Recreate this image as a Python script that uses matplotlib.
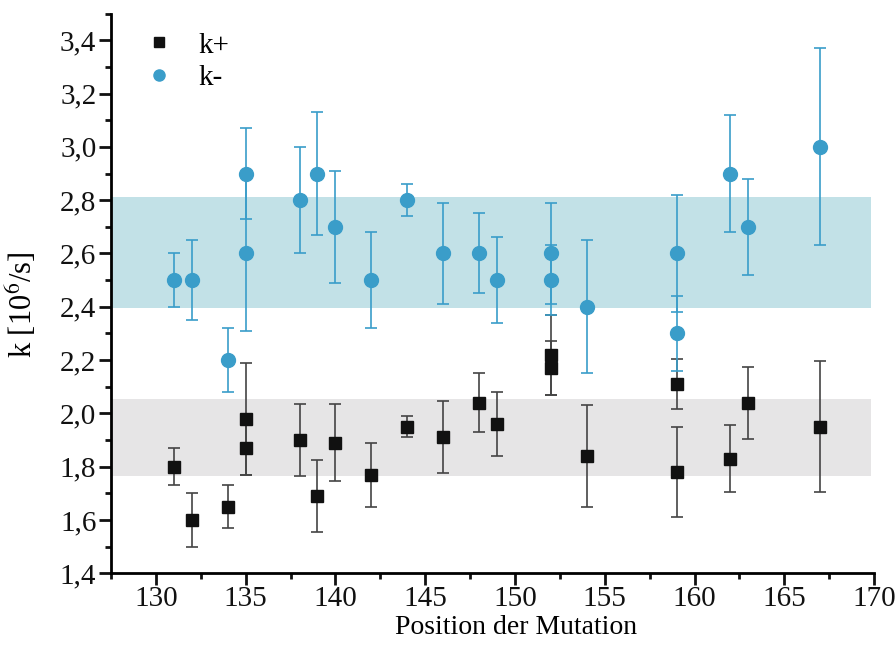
import matplotlib
matplotlib.use("Agg")
import matplotlib.pyplot as plt
from matplotlib.ticker import MultipleLocator, FuncFormatter

# k+ (schwarze Quadrate)
pos_plus = [131, 132, 134, 135, 135, 138, 139, 140, 142, 144, 146, 148, 149, 152, 152, 154, 159, 159, 162, 163, 167]
k_plus = [1.80, 1.60, 1.65, 1.98, 1.87, 1.90, 1.69, 1.89, 1.77, 1.95, 1.91, 2.04, 1.96, 2.17, 2.22, 1.84, 1.78, 2.11, 1.83, 2.04, 1.95]
err_plus = [0.07, 0.10, 0.08, 0.21, 0.10, 0.135, 0.135, 0.145, 0.12, 0.04, 0.135, 0.11, 0.12, 0.10, 0.15, 0.19, 0.17, 0.095, 0.125, 0.135, 0.245]

# k- (blaue Kreise)
pos_minus = [131, 132, 134, 135, 135, 138, 139, 140, 142, 144, 146, 148, 149, 152, 152, 154, 159, 159, 162, 163, 167]
k_minus = [2.50, 2.50, 2.20, 2.90, 2.60, 2.80, 2.90, 2.70, 2.50, 2.80, 2.60, 2.60, 2.50, 2.60, 2.50, 2.40, 2.60, 2.30, 2.90, 2.70, 3.00]
err_minus = [0.10, 0.15, 0.12, 0.17, 0.29, 0.20, 0.23, 0.21, 0.18, 0.06, 0.19, 0.15, 0.16, 0.19, 0.13, 0.25, 0.22, 0.14, 0.22, 0.18, 0.37]

# Bereiche (Mittelwert +- Abweichung)
band_plus = (1.765, 2.055)
band_minus = (2.395, 2.81)
band_x = (127.5, 169.85)

plt.rcParams['font.family'] = ['Liberation Serif', 'DejaVu Serif']
plt.rcParams['mathtext.fontset'] = 'stix'

fig = plt.figure(figsize=(8.96, 6.6), dpi=100)
ax = fig.add_axes([0.1239, 0.1314, 0.8516, 0.848])

ax.fill_between(band_x, band_minus[0], band_minus[1], color='#c2e1e7', lw=0, zorder=0)
ax.fill_between(band_x, band_plus[0], band_plus[1], color='#e6e5e6', lw=0, zorder=0)

ax.errorbar(pos_plus, k_plus, yerr=err_plus, fmt='s', color='#111111', ms=9,
            ecolor='#444444', elinewidth=1.2, capsize=4.2, capthick=1.2, label='k+', zorder=3)
ax.errorbar(pos_minus, k_minus, yerr=err_minus, fmt='o', color='#3a9dc9', ms=10,
            ecolor='#3a9dc9', elinewidth=1.2, capsize=4.2, capthick=1.2, label='k-', zorder=4)

ax.set_xlim(127.5, 170)
ax.set_ylim(1.4, 3.5)
ax.xaxis.set_major_locator(MultipleLocator(5))
ax.xaxis.set_minor_locator(MultipleLocator(2.5))
ax.yaxis.set_major_locator(MultipleLocator(0.2))
ax.yaxis.set_minor_locator(MultipleLocator(0.1))
ax.yaxis.set_major_formatter(FuncFormatter(lambda v, p: f"{v:.1f}".replace('.', ',')))

for s in ['top', 'right']:
    ax.spines[s].set_visible(False)
for s in ['left', 'bottom']:
    ax.spines[s].set_linewidth(2)
ax.tick_params(which='major', direction='out', length=8.5, width=2, labelsize=21, colors='#111111')
ax.tick_params(which='minor', direction='out', length=4.5, width=2, colors='#111111')
ax.tick_params(axis='y', pad=2)
ax.tick_params(axis='x', pad=1)

ax.set_xlabel('Position der Mutation', fontsize=20)
ax.xaxis.set_label_coords(0.531, -0.075)
ax.set_ylabel('k [10$^6$/s]', fontsize=22)
ax.yaxis.set_label_coords(-0.095, 0.479)

handles, labels = ax.get_legend_handles_labels()
handles = [h[0] for h in handles]
ax.legend(handles, labels, loc='upper left', frameon=False, fontsize=21,
          bbox_to_anchor=(0.009, 1.0136), handlelength=1.0, handletextpad=0.87,
          labelspacing=0.2, markerscale=0.8)

fig.savefig('out.png', dpi=100)
